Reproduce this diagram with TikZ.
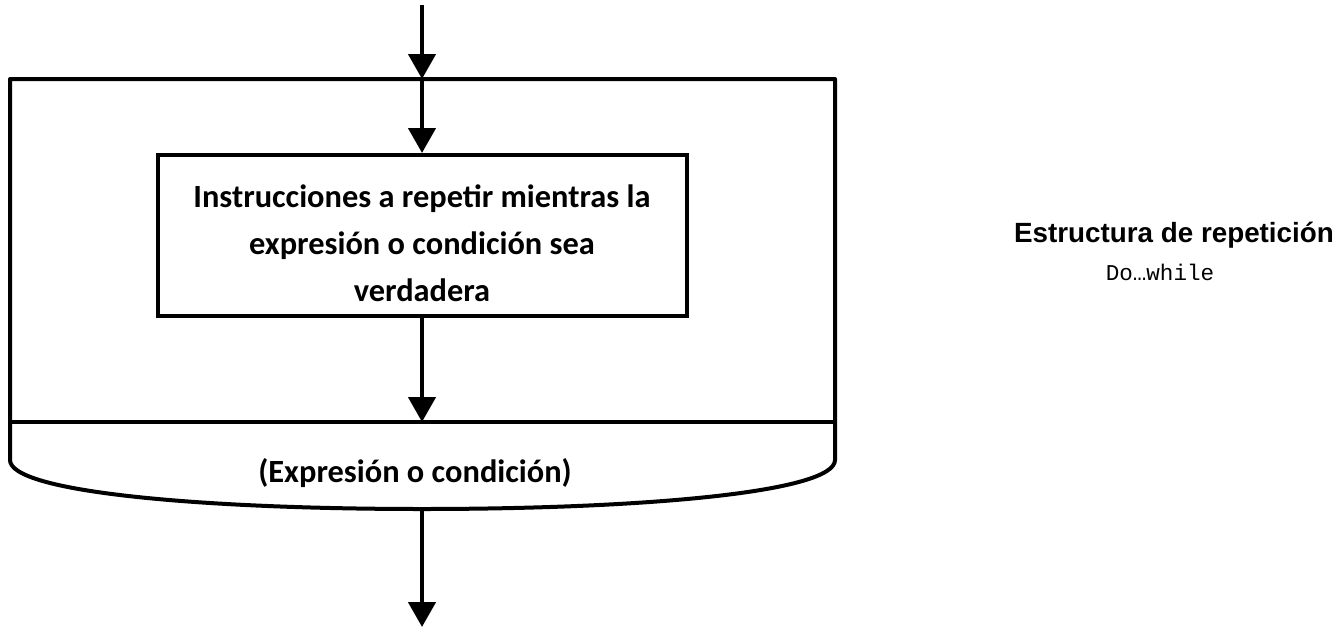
\documentclass[tikz,border=0pt]{standalone}
\usepackage{fontspec}
\setmainfont{Carlito}
\newfontfamily\arialfont{Liberation Sans}
\newfontfamily\courfont{Liberation Mono}
\usetikzlibrary{arrows.meta}
\begin{document}
\begin{tikzpicture}[x=0.5pt,y=-0.5pt,
  edge/.style={line width=2pt},
  flow/.style={line width=2.25pt,-{Triangle[width=13.5pt,length=12.5pt]}},
  boxtext/.style={font=\fontsize{16.2}{23.5}\selectfont\bfseries, align=center, inner sep=0pt},
]
\useasboundingbox (0,0) rectangle (1335,628);
\coordinate (start) at (422,5);
\coordinate (outertop) at (422,79);
\coordinate (divider) at (422,422);
\coordinate (bottom) at (422,509);
\coordinate (end) at (422,627);
% outer loop shape
\draw[edge, line join=round] (10,79) -- (835,79) -- (835,460)
  .. controls (835,492) and (645,509) .. (bottom)
  .. controls (200,509) and (10,492) .. (10,460) -- cycle;
\draw[edge] (10,422) -- (835,422);
% inner box
\node[draw, edge, minimum width=264.5pt, minimum height=80.5pt, inner sep=0pt] (inner) at (422,235.5) {};
\node[boxtext] (innertext) at (422,243) {Instrucciones a repetir mientras la\\expresión o condición sea\\verdadera};
\node[boxtext, anchor=base] (cond) at (415,482) {(Expresión o condición)};
% arrows
\draw[flow] (start) -- (outertop);
\draw[flow] (outertop) -- (inner.north);
\draw[flow] (inner.south) -- (divider);
\draw[flow] (bottom) -- (end);
% title
\node[font=\arialfont\bfseries\fontsize{13.9}{16}\selectfont, anchor=base, inner sep=0pt] (title) at (1174,242) {Estructura de repetición};
\node[font=\courfont\fontsize{11.3}{14}\selectfont, anchor=base, inner sep=0pt] (sub) at (1160,280) {Do…while};
\end{tikzpicture}
\end{document}
